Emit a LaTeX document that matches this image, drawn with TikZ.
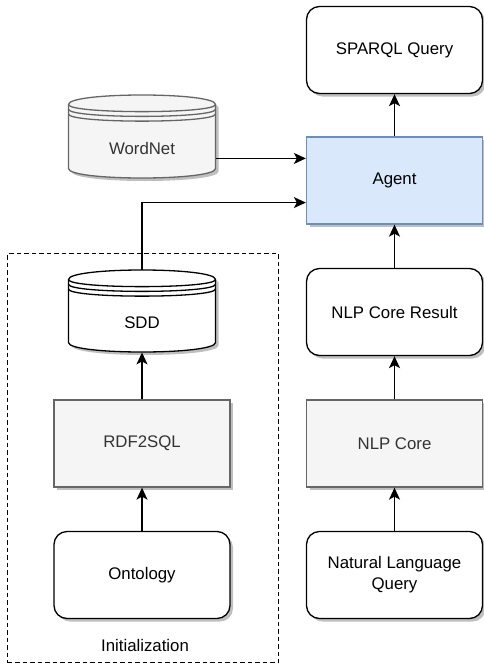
\documentclass[tikz,border=0pt]{standalone}
\usepackage{fontspec}
\setmainfont{Liberation Sans}
\usetikzlibrary{arrows.meta,shadows,calc}

\definecolor{boxgray}{HTML}{F5F5F5}
\definecolor{edgegray}{HTML}{666666}
\definecolor{txtgray}{HTML}{333333}
\definecolor{agentfill}{HTML}{DAE8FC}
\definecolor{agentline}{HTML}{6C8EBF}

% depth of the top ellipse of a data store
\newcommand\storedy{9.5}
% data store (cylinder with stacked rims): #1 left, #2 top, #3 width, #4 height, #5 fill, #6 stroke
\newcommand\storeshape[6]{%
  \path[fill=#5, draw=#6, line width=1.3pt, shadowed]
    (#1,#2+\storedy) .. controls (#1,#2-\storedy/3) and (#1+#3,#2-\storedy/3) .. (#1+#3,#2+\storedy)
    -- (#1+#3,#2+#4-\storedy) .. controls (#1+#3,#2+#4+\storedy/3) and (#1,#2+#4+\storedy/3) .. (#1,#2+#4-\storedy) -- cycle;
  \draw[draw=#6, line width=1.3pt]
    (#1,#2+\storedy) .. controls (#1,#2+2*\storedy) and (#1+#3,#2+2*\storedy) .. (#1+#3,#2+\storedy)
    (#1,#2+1.5*\storedy) .. controls (#1,#2+2.5*\storedy) and (#1+#3,#2+2.5*\storedy) .. (#1+#3,#2+1.5*\storedy)
    (#1,#2+2*\storedy) .. controls (#1,#2+3*\storedy) and (#1+#3,#2+3*\storedy) .. (#1+#3,#2+2*\storedy);
}

\tikzset{
  shadowed/.style={drop shadow={shadow xshift=3pt, shadow yshift=-3pt, opacity=0.25, fill=black}},
  labeltext/.style={font=\fontsize{16.8}{21}\selectfont, inner sep=0pt, align=center},
  base/.style={labeltext, line width=1.3pt, minimum width=176pt, minimum height=87pt, shadowed},
  roundbox/.style={base, draw=black, fill=white, rounded corners=13pt},
  graybox/.style={base, draw=edgegray, fill=boxgray, text=txtgray},
  agentbox/.style={base, draw=agentline, fill=agentfill},
  storebox/.style={inner sep=0pt, minimum width=147pt, anchor=north},
  link/.style={line width=1.4pt, -{Stealth[length=12pt,width=11pt,inset=3pt]}},
  group/.style={draw=black, line width=1.4pt, dash pattern=on 4.5pt off 3pt,
    inner sep=0pt, anchor=north west, minimum width=271pt, minimum height=409pt},
}

\begin{document}
\begin{tikzpicture}[x=1pt,y=-1pt]
\useasboundingbox (0,0) rectangle (483,664);

% initialization group
\node[group] (init) at (7,253) {};
\node[labeltext] (initlabel) at (145,645) {Initialization};

% right column
\node[roundbox] (sparql) at (394.5,50) {SPARQL Query};
\node[agentbox] (agent) at (394.5,180.5) {Agent};
\node[roundbox] (nlpres) at (394.5,312) {NLP Core Result};
\node[graybox] (nlpcore) at (394.5,443.5) {NLP Core};
\node[roundbox] (nlq) at (394.5,575) {Natural Language\\Query};

% left column
\storeshape{68.5}{95}{147}{83}{boxgray}{edgegray}
\node[storebox, minimum height=83pt] (wordnet) at (142,95) {};
\node[labeltext, text=txtgray] (wordnetlabel) at (142,148) {WordNet};

\storeshape{68.5}{270}{147}{82}{white}{black}
\node[storebox, minimum height=82pt] (sdd) at (142,270) {};
\node[labeltext] (sddlabel) at (142,323) {SDD};

\node[graybox] (rdf) at (142,443.5) {RDF2SQL};
\node[roundbox] (onto) at (142,575) {Ontology};

% entry points on the agent's left side
\coordinate (inwn) at ($(agent.north west)!0.25!(agent.south west)$);
\coordinate (insdd) at ($(agent.north west)!0.75!(agent.south west)$);

% connectors
\draw[link] (agent.north) -- (sparql.south);
\draw[link] (nlpres.north) -- (agent.south);
\draw[link] (nlpcore.north) -- (nlpres.south);
\draw[link] (nlq.north) -- (nlpcore.south);
\draw[link] (onto.north) -- (rdf.south);
\draw[link] (rdf.north) -- (sdd.south);
\draw[link] (wordnet.east |- inwn) -- (inwn);
\draw[link] (sdd.north) -- (sdd.north |- insdd) -- (insdd);
\end{tikzpicture}
\end{document}
